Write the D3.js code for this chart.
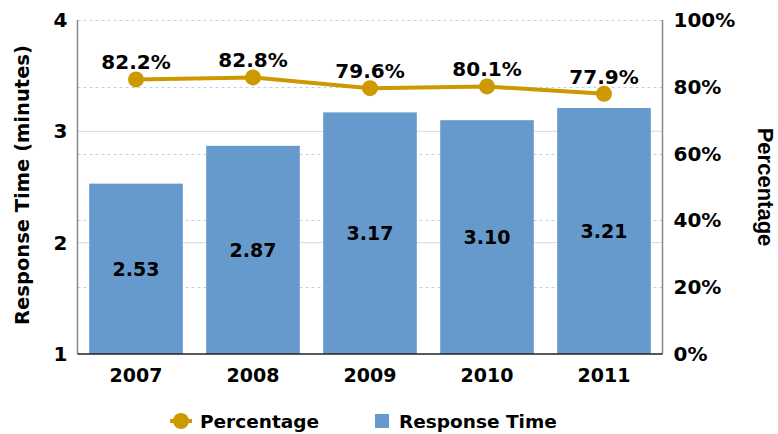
<!DOCTYPE html>
<html><head><meta charset="utf-8">
<script src="https://cdn.jsdelivr.net/npm/d3@7"></script>
<style>body{margin:0;background:#fff}svg{display:block}text{font-family:"DejaVu Sans",Verdana,sans-serif;font-weight:bold;fill:#000}</style>
</head><body><svg id="c" width="778" height="434"></svg>
<script>
const years = ["2007","2008","2009","2010","2011"];
const responseTime = [2.53, 2.87, 3.17, 3.10, 3.21];
const percentage = [82.2, 82.8, 79.6, 80.1, 77.9];
const leftTicks = [1, 2, 3, 4];
const rightTicks = [0, 20, 40, 60, 80, 100];

const svg = d3.select("#c");
const m = {l: 77.5, r: 662.5, t: 20, b: 354};
const x = d3.scaleBand().domain(years).range([m.l, m.r]).paddingInner(0.2).paddingOuter(0.1);
const yL = d3.scaleLinear().domain([1, 4]).range([m.b, m.t]);
const yR = d3.scaleLinear().domain([0, 100]).range([m.b, m.t]);
const blue = "#6699CC", gold = "#CC9900";

// gridlines
svg.append("g").selectAll("line").data([2, 3]).join("line")
  .attr("x1", m.l).attr("x2", m.r).attr("y1", d => yL(d)).attr("y2", d => yL(d))
  .attr("stroke", "#d9d9d9").attr("stroke-width", 1);
svg.append("g").selectAll("line").data(rightTicks.filter(d => d > 0)).join("line")
  .attr("x1", m.l).attr("x2", m.r).attr("y1", d => Math.round(yR(d)) + 0.5).attr("y2", d => Math.round(yR(d)) + 0.5)
  .attr("stroke", "#b8d4f0").attr("stroke-width", 1).attr("stroke-dasharray", "3,3");

// bars
svg.append("g").selectAll("rect").data(years).join("rect")
  .attr("x", d => x(d)).attr("width", x.bandwidth())
  .attr("y", (d, i) => yL(responseTime[i])).attr("height", (d, i) => m.b - yL(responseTime[i]))
  .attr("fill", blue);
svg.append("g").selectAll("text").data(years).join("text")
  .attr("x", d => x(d) + x.bandwidth() / 2)
  .attr("y", (d, i) => (yL(responseTime[i]) + m.b) / 2)
  .attr("text-anchor", "middle").attr("dominant-baseline", "central")
  .style("font-size", "19px").text((d, i) => responseTime[i].toFixed(2));

// axes lines
svg.append("line").attr("x1", m.l).attr("x2", m.l).attr("y1", m.t).attr("y2", m.b).attr("stroke", "#888").attr("stroke-width", 1.5);
svg.append("line").attr("x1", m.r).attr("x2", m.r).attr("y1", m.t).attr("y2", m.b).attr("stroke", "#888").attr("stroke-width", 1.5);
svg.append("line").attr("x1", m.l).attr("x2", m.r).attr("y1", m.b).attr("y2", m.b).attr("stroke", "#222").attr("stroke-width", 1.5);

// axis tick labels
const axL = svg.append("g").attr("transform", `translate(${m.l},0)`).call(d3.axisLeft(yL).tickValues(leftTicks).tickFormat(d3.format("d")).tickSize(0).tickPadding(10));
const axR = svg.append("g").attr("transform", `translate(${m.r},0)`).call(d3.axisRight(yR).tickValues(rightTicks).tickFormat(d => d + "%").tickSize(0).tickPadding(11));
const axB = svg.append("g").attr("transform", `translate(0,${m.b})`).call(d3.axisBottom(x).tickSize(0).tickPadding(15));
[axL, axR, axB].forEach(a => { a.select(".domain").remove(); a.selectAll("text").style("font-size", "20px").attr("font-family", null); });
axB.selectAll("text").style("font-size", "19px");

// line
const line = d3.line().x((d, i) => x(years[i]) + x.bandwidth() / 2).y(d => yR(d));
svg.append("path").datum(percentage).attr("d", line).attr("fill", "none").attr("stroke", gold).attr("stroke-width", 4);
svg.append("g").selectAll("circle").data(percentage).join("circle")
  .attr("cx", (d, i) => x(years[i]) + x.bandwidth() / 2).attr("cy", d => yR(d)).attr("r", 8).attr("fill", gold);
svg.append("g").selectAll("text").data(percentage).join("text")
  .attr("x", (d, i) => x(years[i]) + x.bandwidth() / 2).attr("y", d => yR(d) - 10)
  .attr("text-anchor", "middle").style("font-size", "20px").text(d => d.toFixed(1) + "%");

// axis titles
svg.append("text").attr("transform", `translate(29,185) rotate(-90)`)
  .attr("text-anchor", "middle").style("font-size", "19.5px").text("Response Time (minutes)");
svg.append("text").attr("transform", `translate(758,187) rotate(90)`)
  .attr("text-anchor", "middle").style("font-size", "22px")
  .style("font-family", "'Liberation Sans', Arial, sans-serif").text("Percentage");

// legend
const lg = svg.append("g").attr("transform", "translate(0,421)");
lg.append("line").attr("x1", 170).attr("x2", 192).attr("y1", 0).attr("y2", 0).attr("stroke", gold).attr("stroke-width", 4);
lg.append("circle").attr("cx", 181).attr("cy", 0).attr("r", 8).attr("fill", gold);
lg.append("text").attr("x", 200).attr("y", 0).attr("dominant-baseline", "central").style("font-size", "18.5px").text("Percentage");
lg.append("rect").attr("x", 375).attr("y", -7).attr("width", 14).attr("height", 14).attr("fill", blue);
lg.append("text").attr("x", 399).attr("y", 0).attr("dominant-baseline", "central").style("font-size", "18.5px").text("Response Time");
</script></body></html>
